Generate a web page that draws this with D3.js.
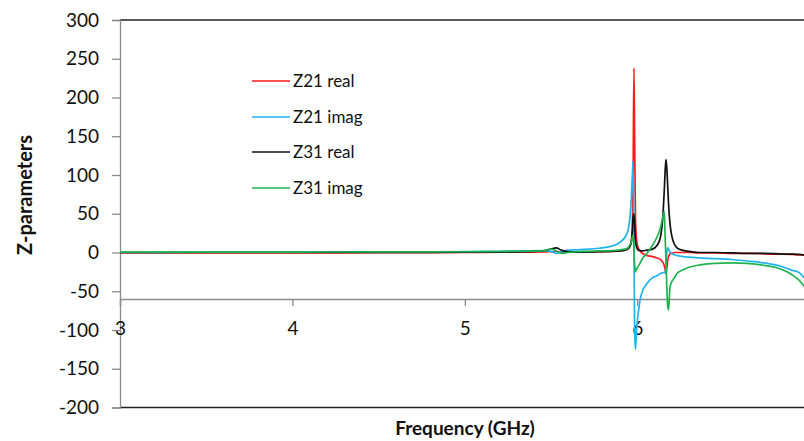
<!DOCTYPE html>
<html>
<head>
<meta charset="utf-8">
<script src="https://cdn.jsdelivr.net/npm/d3@7/dist/d3.min.js"></script>
<style>
  html, body { margin: 0; padding: 0; background: #fff; }
  svg { display: block; }
  text { font-family: Lato, "Open Sans", sans-serif; fill: #111; }
</style>
</head>
<body>
<svg id="chart" width="804" height="441"></svg>
<script>
// Frequency samples (GHz)
const freq = [3.0, 3.5, 4.0, 4.5, 5.0, 5.2, 5.35, 5.45, 5.5, 5.53, 5.56, 5.6, 5.65, 5.7, 5.78, 5.85, 5.9, 5.94,
  5.958, 5.966, 5.972, 5.976, 5.981, 5.985, 5.99, 5.995, 6.0, 6.008, 6.016, 6.03, 6.057, 6.085, 6.115, 6.135,
  6.15, 6.157, 6.162, 6.167, 6.172, 6.177, 6.182, 6.19, 6.2, 6.215, 6.231, 6.26, 6.3, 6.364, 6.45, 6.55, 6.637,
  6.72, 6.8, 6.85, 6.9, 6.94, 6.97, 7.0];

// Z21 real part
const z21Real = [-0.5, -0.5, -0.5, -0.3, 0, 0.3, 0.5, 0.8, 1, 1.5, 0.5, 0.5, 0.8, 1, 1.2, 1.5, 2, 4,
  8, 15, 35, 90, 238, 150, 45, 20, 11, 5, 2, -1, -4, -5, -7, -9,
  -13, -17, -22, -27, -20, -10, -5, -2, -1, 0, 0, 0, 0, -0.5, -0.5, -1, -1,
  -1.5, -2, -2, -2.5, -3, -3, -3.5];

// Z21 imaginary part
const z21Imag = [0, 0.3, 0.5, 0.8, 1.2, 1.5, 2, 2.5, 1.5, -1, 1, 3, 3.5, 4, 5.5, 8, 13, 24,
  45, 70, 100, 118, 20, -100, -125, -105, -90, -75, -62, -50, -40, -33, -30, -27,
  -26, -26, -25, -18, 2, 6, 4, 1, -1, -3, -4, -5, -6, -7, -8, -9, -11,
  -13, -16, -19, -23, -26, -33, -42];

// Z31 real part
const z31Real = [0, 0, 0, 0.1, 0.3, 0.5, 1, 2, 4.5, 6, 3, 1, 0.5, 0.5, 1, 1.5, 2, 4,
  8, 14, 28, 45, 50, 35, 15, 8, 5, 3, 2.5, 2, 3, 4, 9, 20,
  50, 80, 105, 120, 108, 85, 62, 38, 22, 11, 6, 3, 1.5, 0, 0, -0.5, -1,
  -1, -1.5, -2, -2, -2.5, -3, -3];

// Z31 imaginary part
const z31Imag = [0.5, 0.5, 0.5, 0.8, 1, 1.3, 1.6, 2, 4.5, 2, -1, 0, 1, 1.5, 2, 2.5, 3.5, 5,
  10, 14, 20, 22, 5, -15, -25, -22, -20, -17, -14, -8, -1, 8, 20, 32,
  47, 53, 20, -10, -45, -70, -74, -45, -38, -33, -27, -23, -19, -16, -14, -13.5, -14,
  -16, -19, -23, -29, -36, -44, -52];

const seriesNames = ["Z21 real", "Z21 imag", "Z31 real", "Z31 imag"];
const seriesValues = [z21Real, z21Imag, z31Real, z31Imag];
const seriesColors = ["#ff1a1a", "#1fb4ef", "#111111", "#1fb24f"];

const yTicks = [300, 250, 200, 150, 100, 50, 0, -50, -100, -150, -200];
const xTicks = [3, 4, 5, 6];
const xAxisCross = -60;

const svg = d3.select("#chart");
const plotLeft = 120, plotRight = 809.6, plotTop = 20, plotBottom = 407.5;

const x = d3.scaleLinear().domain([3, 7]).range([plotLeft, plotRight]);
const y = d3.scaleLinear().domain([-200, 300]).range([plotBottom, plotTop]);

svg.append("defs").append("clipPath").attr("id", "plotClip")
  .append("rect").attr("x", plotLeft).attr("y", plotTop)
  .attr("width", plotRight - plotLeft).attr("height", plotBottom - plotTop);

// plot area frame (top and bottom edges)
svg.append("line").attr("x1", plotLeft).attr("x2", plotRight).attr("y1", plotTop).attr("y2", plotTop)
  .attr("stroke", "#222").attr("stroke-width", 1.6);
svg.append("line").attr("x1", plotLeft).attr("x2", plotRight).attr("y1", plotBottom).attr("y2", plotBottom)
  .attr("stroke", "#222").attr("stroke-width", 1.6);

// y axis
const yAxis = d3.axisLeft(y).tickValues(yTicks).tickSize(8).tickPadding(13).tickFormat(d3.format("d"));
const gy = svg.append("g").attr("transform", `translate(${plotLeft},0)`).call(yAxis);
gy.select(".domain").attr("stroke", "#8a8a8a").attr("stroke-width", 1.3);
gy.selectAll(".tick line").attr("stroke", "#8a8a8a").attr("stroke-width", 1.3);
gy.selectAll(".tick text").style("font-size", "19px").attr("fill", "#111")
  .text(d => d < 0 ? "-" + Math.abs(d) : d);

// x axis, crossing the value axis at -60
const xAxis = d3.axisBottom(x).tickValues(xTicks).tickSize(7).tickPadding(16).tickFormat(d3.format("d"));
const gx = svg.append("g").attr("transform", `translate(0,${y(xAxisCross)})`).call(xAxis);
gx.select(".domain").attr("stroke", "#8a8a8a").attr("stroke-width", 1.3);
gx.selectAll(".tick line").attr("stroke", "#8a8a8a").attr("stroke-width", 1.3);
gx.selectAll(".tick text").style("font-size", "19px").attr("fill", "#111");

// series curves
const lineGen = d3.line().x(d => x(d[0])).y(d => y(d[1])).curve(d3.curveMonotoneX);
const plot = svg.append("g").attr("clip-path", "url(#plotClip)");
seriesValues.forEach((vals, k) => {
  plot.append("path")
    .datum(freq.map((f, i) => [f, vals[i]]))
    .attr("fill", "none")
    .attr("stroke", seriesColors[k])
    .attr("stroke-width", 1.7)
    .attr("stroke-linejoin", "round")
    .attr("d", lineGen);
});

// legend
const legend = svg.append("g");
const legendY = [81, 117, 152, 188];
seriesNames.forEach((name, k) => {
  legend.append("line").attr("x1", 252).attr("x2", 290).attr("y1", legendY[k]).attr("y2", legendY[k])
    .attr("stroke", seriesColors[k]).attr("stroke-width", 1.7);
  legend.append("text").attr("x", 293).attr("y", legendY[k]).attr("dy", "0.35em")
    .style("font-size", "17px").text(name);
});

// axis titles
svg.append("text").attr("transform", "translate(25,195) rotate(-90)")
  .attr("text-anchor", "middle").attr("dy", "0.35em")
  .style("font-size", "20px").style("font-weight", "bold").text("Z-parameters");
svg.append("text").attr("x", 465).attr("y", 428).attr("text-anchor", "middle").attr("dy", "0.35em")
  .style("font-size", "19px").style("font-weight", "bold").text("Frequency (GHz)");
</script>
</body>
</html>
